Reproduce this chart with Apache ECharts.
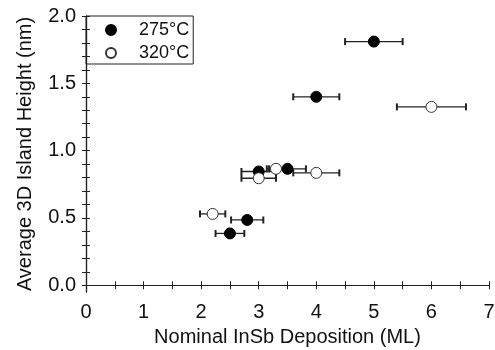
<!DOCTYPE html>
<html><head><meta charset="utf-8">
<script src="https://cdn.jsdelivr.net/npm/echarts@6/dist/echarts.min.js"></script>
<style>html,body{margin:0;padding:0;background:#fff}#c{width:495px;height:350px}</style>
</head><body><div id="c"></div>
<script>
// Data
const yTickLabels = [0, 0.5, 1.0, 1.5, 2.0];
const yTicks = [0,0.1,0.2,0.3,0.4,0.5,0.6,0.7,0.8,0.9,1.0,1.1,1.2,1.3,1.4,1.5,1.6,1.7,1.8,1.9,2.0];
const s275_x = [5.0, 4.0, 3.5, 3.0, 2.8, 2.5];
const s275_y = [1.81, 1.40, 0.865, 0.845, 0.485, 0.385];
const s275_xerr = [0.5, 0.4, 0.32, 0.3, 0.28, 0.25];
const s320_x = [6.0, 4.0, 3.3, 3.0, 2.2];
const s320_y = [1.325, 0.835, 0.865, 0.795, 0.53];
const s320_xerr = [0.6, 0.4, 0.16, 0.3, 0.22];

const font = 'Liberation Sans, Arial, sans-serif';
const ink = '#222';
const fs = 20;

function pts(xs, ys){ return xs.map((x,i)=>[x, ys[i]]); }
function errData(xs, ys, es){ return xs.map((x,i)=>[x, ys[i], x-es[i], x+es[i]]); }

function errRender(params, api){
  const y = api.value(1);
  const p1 = api.coord([api.value(2), y]);
  const p2 = api.coord([api.value(3), y]);
  const h = 3.5;
  const st = {stroke: ink, lineWidth: 1.3};
  const cs = {stroke: ink, lineWidth: 2};
  return {type:'group', children:[
    {type:'line', shape:{x1:p1[0],y1:p1[1],x2:p2[0],y2:p2[1]}, style:st},
    {type:'line', shape:{x1:p1[0],y1:p1[1]-h,x2:p1[0],y2:p1[1]+h}, style:cs},
    {type:'line', shape:{x1:p2[0],y1:p2[1]-h,x2:p2[0],y2:p2[1]+h}, style:cs}
  ]};
}

const chart = echarts.init(document.getElementById('c'), null, {renderer:'canvas'});
const line = {show:true, lineStyle:{color:ink, width:1.2}};
const tick = {show:true, inside:false, length:-4, lineStyle:{color:ink, width:1}};
chart.setOption({
  animation:false,
  grid:{left:86, right:6, top:16, bottom:58, containLabel:false, outerBoundsMode:'none'},
  legend:{
    left:86, top:16, orient:'vertical', itemGap:3,
    padding:[4,4,1,19], borderColor:ink, borderWidth:1,
    itemWidth:10, itemHeight:10,
    textStyle:{fontFamily:font, fontSize:18, color:'#111', lineHeight:20, padding:[0,0,0,18]},
    data:[{name:'275°C', icon:'circle'},{name:'320°C', icon:'circle'}]
  },
  xAxis:[
    {type:'value', min:0, max:7, interval:0.5, position:'bottom',
      axisLine:line, axisTick:tick, splitLine:{show:false},
      axisLabel:{fontFamily:font, fontSize:fs, color:'#111', margin:10,
        formatter:v=>(Math.abs(v-Math.round(v))<1e-9 ? String(Math.round(v)) : '')},
      name:'Nominal InSb Deposition (ML)', nameLocation:'middle', nameGap:35,
      nameTextStyle:{fontFamily:font, fontSize:fs, color:'#111'}},
    {type:'value', min:0, max:7, interval:0.5, position:'top',
      axisLine:line, axisTick:tick, splitLine:{show:false}, axisLabel:{show:false}}
  ],
  yAxis:[
    {type:'value', min:-0.05, max:2.0, position:'left',
      axisLine:line, splitLine:{show:false},
      axisTick:Object.assign({customValues:yTicks}, tick),
      axisLabel:{fontFamily:font, fontSize:fs, color:'#111', margin:10,
        formatter:v=>v.toFixed(1), customValues:yTickLabels},
      name:'Average 3D Island Height (nm)', nameLocation:'middle', nameGap:51,
      nameTextStyle:{fontFamily:font, fontSize:fs, color:'#111'}},
    {type:'value', min:-0.05, max:2.0, position:'right',
      axisLine:line, splitLine:{show:false}, axisLabel:{show:false},
      axisTick:Object.assign({customValues:yTicks}, tick)}
  ],
  series:[
    {type:'custom', name:'err275', renderItem:errRender, data:errData(s275_x, s275_y, s275_xerr), z:1, silent:true},
    {type:'custom', name:'err320', renderItem:errRender, data:errData(s320_x, s320_y, s320_xerr), z:1, silent:true},
    {type:'scatter', name:'275°C', data:pts(s275_x, s275_y), symbol:'circle', symbolSize:11,
      itemStyle:{color:'#000', borderColor:'#000', borderWidth:1, opacity:1}, z:3},
    {type:'scatter', name:'320°C', data:pts(s320_x, s320_y), symbol:'circle', symbolSize:11,
      itemStyle:{color:'#fff', borderColor:'#333', borderWidth:1, opacity:1}, z:3}
  ]
});
</script></body></html>
